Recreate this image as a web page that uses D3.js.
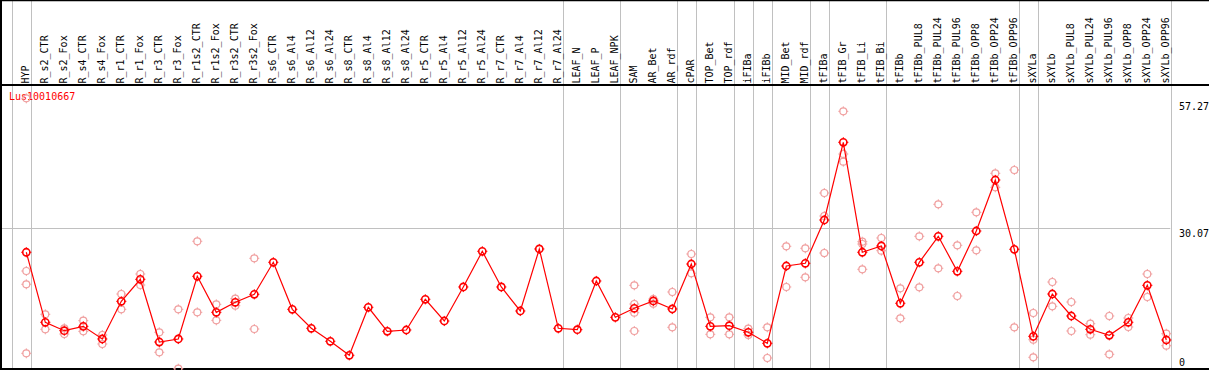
<!DOCTYPE html>
<html><head><meta charset="utf-8">
<script src="https://cdn.jsdelivr.net/npm/d3@7"></script>
<style>
html,body{margin:0;padding:0;background:#fff;}
svg{display:block;}
text{font-family:"DejaVu Sans Mono","Liberation Mono",monospace;font-size:10px;}
</style></head>
<body>
<script>
const geneName = "Lus10010667";
const categories = ["HYP","R_s2_CTR","R_s2_Fox","R_s4_CTR","R_s4_Fox","R_r1_CTR","R_r1_Fox","R_r3_CTR","R_r3_Fox","R_r1s2_CTR","R_r1s2_Fox","R_r3s2_CTR","R_r3s2_Fox","R_s6_CTR","R_s6_Al4","R_s6_Al12","R_s6_Al24","R_s8_CTR","R_s8_Al4","R_s8_Al12","R_s8_Al24","R_r5_CTR","R_r5_Al4","R_r5_Al12","R_r5_Al24","R_r7_CTR","R_r7_Al4","R_r7_Al12","R_r7_Al24","LEAF_N","LEAF_P","LEAF_NPK","SAM","AR_Bet","AR_rdf","cPAR","TOP_Bet","TOP_rdf","iFIBa","iFIBb","MID_Bet","MID_rdf","tFIBa","tFIB_Gr","tFIB_Li","tFIB_Bi","tFIBb","tFIBb_PUL8","tFIBb_PUL24","tFIBb_PUL96","tFIBb_OPP8","tFIBb_OPP24","tFIBb_OPP96","sXYLa","sXYLb","sXYLb_PUL8","sXYLb_PUL24","sXYLb_PUL96","sXYLb_OPP8","sXYLb_OPP24","sXYLb_OPP96"];
const means = [24.33,7.97,6.01,7.02,4.07,12.87,18.01,3.36,4.07,18.72,10.30,12.64,14.51,21.99,11.0,6.57,3.53,0.26,11.47,5.86,6.17,13.34,8.27,16.22,24.56,16.22,10.61,25.10,6.57,6.24,17.62,9.13,11.24,12.95,11.08,21.59,7.03,7.17,5.63,3.06,21.12,21.75,31.87,50.03,24.33,25.8,12.41,21.99,28.06,19.88,29.30,41.22,25.03,4.69,14.58,9.44,6.33,4.93,7.97,16.61,3.83];
const replicates = [
 [19.95,16.85,0.72,60.3],[9.84,6.33],[6.57,5.23],[8.35,5.86],[5.0,2.9],[14.58,11.0],[19.25,16.68],[5.63,0.96],[11.0,-2.87],[26.9,10.3],
 [12.17,8.43],[13.48,11.85],[22.92,6.40],[],[],[],[],[],[],[],
 [],[],[],[],[],[],[],[],[],[],
 [],[],[16.61,12.24,10.21,5.94],[13.41,12.31],[15.05,6.80],[23.93,19.42],[9.13,5.16],[9.13,5.16],[6.47,5.0],[6.80,-0.37],
 [25.73,16.22],[25.26,18.48],[38.18,32.8,24.16],[57.27,47.29,45.5],[26.8,26.26,20.35],[27.67,24.7],[15.91,8.90],[28.06,16.15],[35.54,20.59],[25.96,14.11],
 [33.67,24.79],[42.78,39.51],[43.56,6.80],[10.14,3.9,-0.21],[17.38,11.7],[12.71,5.94],[7.64,5.07],[9.44,0.49],[8.97,6.87],[19.25,13.88],
 [5.3,2.5]
];
const groupEndsAfter = [-1,0,28,31,34,35,37,38,39,41,42,45,52,53,60];
const yTicks = [0,30.07,57.27];
const gridValues = [30.07];

const W = 1209, H = 370;
const svg = d3.select("body").append("svg").attr("width",W).attr("height",H);

const x = d3.scalePoint().domain(categories).range([26.3,1166.3]);
const step = x.step();
const y = d3.scaleLinear().domain([0,57.27]).range([356.4,111.3]);

const GREY = "#c0c0c0";
const headerY = 85;

// horizontal grid
svg.selectAll("line.hgrid").data(gridValues).join("line")
  .attr("x1",0).attr("x2",1170.3)
  .attr("y1",d=>Math.round(y(d))+0.5).attr("y2",d=>Math.round(y(d))+0.5)
  .attr("stroke",GREY).attr("stroke-width",1);

// vertical group separators
const sepX = i => Math.round(x(categories[0]) + step*i + 4.2) + 0.5;
svg.selectAll("line.vsep").data(groupEndsAfter).join("line")
  .attr("x1",sepX).attr("x2",sepX).attr("y1",0).attr("y2",H)
  .attr("stroke",GREY).attr("stroke-width",1);

// frame lines
svg.append("line").attr("x1",0).attr("x2",W).attr("y1",0.5).attr("y2",0.5).attr("stroke","#000").attr("stroke-width",1.5);
svg.append("line").attr("x1",0).attr("x2",W).attr("y1",headerY).attr("y2",headerY).attr("stroke","#000").attr("stroke-width",2);
svg.append("line").attr("x1",0).attr("x2",W).attr("y1",369).attr("y2",369).attr("stroke","#000").attr("stroke-width",2);
svg.append("line").attr("x1",1).attr("x2",1).attr("y1",0).attr("y2",H).attr("stroke","#000").attr("stroke-width",2);

// header labels
svg.selectAll("text.cat").data(categories).join("text")
  .attr("class","cat")
  .attr("transform",d=>`translate(${x(d)+2.6},83.5) rotate(-90)`)
  .attr("fill","#000")
  .text(d=>d);

// y labels
svg.selectAll("text.ylab").data(yTicks).join("text")
  .attr("x",1179)
  .attr("y",(d,i)=> i===2 ? y(d)-1 : y(d)+ (i===0?10:9))
  .attr("fill","#000")
  .text(d=>d===0?"0":d.toFixed(2));

// gene name
svg.append("text").attr("x",9).attr("y",100).attr("fill","#ff0000").text(geneName);

function marker(sel, r, color, sw){
  sel.append("circle").attr("r",r).attr("fill","none").attr("stroke",color).attr("stroke-width",sw);
  sel.append("path")
    .attr("d",`M0,${-r-1.5}V${-r+0.5}M0,${r-0.5}V${r+1.5}M${-r-1.5},0H${-r+0.5}M${r-0.5},0H${r+1.5}`)
    .attr("stroke",color).attr("stroke-width",1).attr("fill","none");
}

// replicates
const repData = [];
replicates.forEach((arr,i)=>arr.forEach(v=>repData.push({c:categories[i],v})));
svg.selectAll("g.rep").data(repData).join("g")
  .attr("class","rep")
  .attr("transform",d=>`translate(${x(d.c)},${y(d.v)})`)
  .each(function(){ marker(d3.select(this),3.5,"#f0a0a0",1.2); });

// mean line
const line = d3.line().x((d,i)=>x(categories[i])).y(d=>y(d));
svg.append("path").datum(means).attr("d",line).attr("fill","none").attr("stroke","#ff0000").attr("stroke-width",1.2);

svg.selectAll("g.mean").data(means).join("g")
  .attr("class","mean")
  .attr("transform",(d,i)=>`translate(${x(categories[i])},${y(d)})`)
  .each(function(){ marker(d3.select(this),3.6,"#ff0000",1.6); });
</script>
</body></html>
